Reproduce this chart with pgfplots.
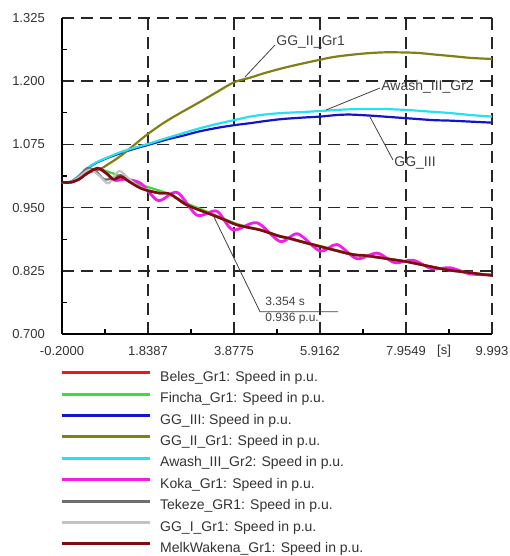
\documentclass[border=0pt]{standalone}
\usepackage{fontspec}
\setmainfont{Liberation Sans}
\usepackage{pgfplots}
\pgfplotsset{compat=1.18}
\definecolor{cRed}{RGB}{230,25,30}
\definecolor{cGreen}{RGB}{60,220,60}
\definecolor{cBlue}{RGB}{20,20,200}
\definecolor{cOlive}{RGB}{128,128,20}
\definecolor{cCyan}{RGB}{40,225,240}
\definecolor{cMag}{RGB}{240,30,230}
\definecolor{cGray}{RGB}{110,110,110}
\definecolor{cLGray}{RGB}{195,195,195}
\definecolor{cDRed}{RGB}{130,10,10}
\begin{document}
\begin{tikzpicture}
\begin{axis}[
 scale only axis, width=430pt, height=316pt,
 xmin=-0.2, xmax=9.9936, ymin=0.7, ymax=1.325,
 axis lines=left, axis line style={-, line width=1.6pt, black},
 xtick={-0.2,1.83872,3.87744,5.91616,7.95488,9.9936},
 xticklabels={-0.2000,1.8387,3.8775,5.9162,7.9549,9.993},
 ytick={0.7,0.825,0.95,1.075,1.2,1.325},
 yticklabels={0.700,0.825,0.950,1.075,1.200,1.325},
 minor x tick num=1, minor y tick num=1,
 tick align=inside, major tick length=0pt, minor tick length=5pt,
 tick style={black, line width=1.2pt},
 grid=major, major grid style={black!85, line width=1.6pt, dash pattern=on 12pt off 7pt},
 ticklabel style={font=\fontsize{13}{15}\selectfont, text=black!80, inner sep=0pt},
 xticklabel style={yshift=-12pt},
 yticklabel style={xshift=-17pt},
 /pgf/number format/assume math mode=true,
 legend style={at={(-0.00465,-0.1171)}, anchor=north west, draw=none, fill=none,
   inner sep=0pt, column sep=9pt, row sep=8.4pt,
   font=\fontsize{14}{16}\selectfont, text=black!80,
   nodes={inner sep=0pt, text height=10pt, text depth=3pt}},
 legend cell align=left,
 legend image code/.code={\draw[#1, line width=3pt] (0pt,5pt) -- (88pt,5pt);},
 every axis plot/.append style={smooth, tension=0.5, no marks},
]
% Beles_Gr1
\addplot[cRed, line width=2.2pt] coordinates {(-0.2,1.000) (0.0,1.000) (0.2,1.006) (0.4,1.018) (0.65,1.027) (0.85,1.019) (1.02,1.007) (1.2,1.010) (1.4,1.001) (1.6,0.991) (1.77,0.986) (2.08,0.979) (2.36,0.976) (2.72,0.957) (3.0,0.947) (3.35,0.936) (3.65,0.926) (3.94,0.916) (4.2,0.911) (4.49,0.906) (4.75,0.899) (4.97,0.893) (5.2,0.889) (5.55,0.881) (5.92,0.873) (6.3,0.865) (6.7,0.857) (7.0,0.855) (7.34,0.851) (7.65,0.847) (7.97,0.843) (8.5,0.834) (8.92,0.827) (9.2,0.824) (9.5,0.821) (9.75,0.818) (9.99,0.816)};
\addlegendentry{Beles\_Gr1: Speed in p.u.}
% Fincha_Gr1
\addplot[cGreen, line width=2.2pt] coordinates {(-0.2,1.000) (0.0,1.000) (0.2,1.006) (0.4,1.018) (0.65,1.027) (0.85,1.022) (1.0,1.018) (1.2,1.012) (1.5,1.000) (1.9,0.989) (2.3,0.978) (2.72,0.960) (3.0,0.950) (3.35,0.938) (3.94,0.918) (4.49,0.906) (4.97,0.894) (5.92,0.874) (6.7,0.858) (7.34,0.851) (7.97,0.843) (8.92,0.827) (9.5,0.821) (9.99,0.816)};
\addlegendentry{Fincha\_Gr1: Speed in p.u.}
% GG_III
\addplot[cBlue, line width=2.2pt] coordinates {(-0.2,1.000) (0.0,1.001) (0.2,1.012) (0.4,1.027) (0.6,1.038) (0.9,1.049) (1.2,1.058) (1.5,1.066) (1.84,1.074) (2.3,1.085) (2.7,1.093) (3.07,1.101) (3.5,1.108) (3.88,1.113) (4.26,1.117) (4.6,1.121) (5.0,1.125) (5.5,1.128) (5.92,1.130) (6.3,1.133) (6.63,1.134) (7.1,1.132) (7.6,1.129) (8.1,1.126) (8.6,1.123) (9.0,1.122) (9.5,1.120) (9.99,1.118)};
\addlegendentry{GG\_III: Speed in p.u.}
% GG_II_Gr1
\addplot[cOlive, line width=2.2pt] coordinates {(-0.2,1.000) (0.0,1.000) (0.2,1.007) (0.45,1.020) (0.7,1.026) (0.9,1.036) (1.17,1.051) (1.5,1.073) (1.81,1.094) (2.2,1.117) (2.6,1.137) (3.07,1.159) (3.5,1.180) (3.88,1.198) (4.26,1.207) (4.6,1.216) (5.04,1.226) (5.45,1.234) (5.89,1.242) (6.25,1.248) (6.63,1.252) (7.0,1.255) (7.41,1.257) (7.8,1.257) (8.22,1.256) (8.6,1.253) (9.0,1.250) (9.5,1.246) (9.99,1.244)};
\addlegendentry{GG\_II\_Gr1: Speed in p.u.}
% Awash_III_Gr2
\addplot[cCyan, line width=2.2pt] coordinates {(-0.2,1.000) (0.0,1.001) (0.2,1.013) (0.4,1.028) (0.6,1.039) (0.9,1.050) (1.2,1.060) (1.5,1.068) (1.84,1.076) (2.3,1.088) (2.7,1.098) (3.07,1.107) (3.5,1.116) (3.88,1.123) (4.26,1.130) (4.6,1.134) (5.0,1.137) (5.5,1.139) (5.92,1.141) (6.5,1.144) (7.0,1.145) (7.41,1.145) (8.0,1.143) (8.5,1.140) (9.0,1.137) (9.5,1.133) (9.99,1.130)};
\addlegendentry{Awash\_III\_Gr2: Speed in p.u.}
% Koka_Gr1
\addplot[cMag, line width=2.8pt] coordinates {(-0.2,1.000) (0.0,1.000) (0.2,1.006) (0.4,1.018) (0.65,1.027) (0.85,1.018) (1.05,1.004) (1.3,1.006) (1.67,0.998) (2.08,0.964) (2.53,0.980) (3.0,0.935) (3.47,0.943) (3.85,0.906) (4.42,0.920) (4.97,0.883) (5.39,0.898) (5.92,0.864) (6.32,0.877) (6.79,0.849) (7.27,0.860) (7.69,0.841) (8.12,0.846) (8.57,0.829) (9.0,0.831) (9.47,0.819) (9.99,0.817)};
\addlegendentry{Koka\_Gr1: Speed in p.u.}
% Tekeze_GR1
\addplot[cGray, line width=2.2pt] coordinates {(-0.2,1.000) (0.0,1.000) (0.2,1.012) (0.4,1.028) (0.6,1.022) (0.8,1.006) (1.0,1.008) (1.2,1.014) (1.4,1.002) (1.77,0.986) (2.08,0.979) (2.36,0.976) (2.72,0.957) (3.0,0.947) (3.35,0.936) (3.94,0.916) (4.49,0.906) (4.97,0.893) (5.92,0.873) (6.7,0.857) (7.34,0.851) (7.97,0.843) (8.92,0.827) (9.5,0.821) (9.99,0.816)};
\addlegendentry{Tekeze\_GR1: Speed in p.u.}
% GG_I_Gr1
\addplot[cLGray, line width=2.2pt] coordinates {(-0.2,1.000) (0.0,1.000) (0.2,1.010) (0.45,1.025) (0.7,1.012) (0.9,0.998) (1.15,1.022) (1.35,1.010) (1.6,0.992) (1.8,0.986) (2.08,0.979) (2.36,0.976) (2.72,0.957) (3.0,0.947) (3.35,0.936) (3.94,0.916) (4.49,0.906) (4.97,0.893) (5.92,0.873) (6.7,0.857) (7.34,0.851) (7.97,0.843) (8.92,0.827) (9.5,0.821) (9.99,0.816)};
\addlegendentry{GG\_I\_Gr1: Speed in p.u.}
% MelkWakena_Gr1
\addplot[cDRed, line width=2.6pt] coordinates {(-0.2,1.000) (0.0,1.000) (0.2,1.006) (0.4,1.018) (0.65,1.028) (0.85,1.018) (1.02,1.006) (1.2,1.011) (1.4,1.001) (1.6,0.991) (1.77,0.985) (2.08,0.979) (2.36,0.977) (2.72,0.957) (3.0,0.947) (3.35,0.936) (3.65,0.926) (3.94,0.916) (4.2,0.911) (4.49,0.906) (4.75,0.899) (4.97,0.893) (5.2,0.889) (5.55,0.881) (5.92,0.873) (6.3,0.865) (6.7,0.857) (7.0,0.855) (7.34,0.851) (7.65,0.847) (7.97,0.843) (8.5,0.834) (8.92,0.827) (9.2,0.824) (9.5,0.821) (9.75,0.818) (9.99,0.816)};
\addlegendentry{MelkWakena\_Gr1: Speed in p.u.}
\end{axis}
% annotations (axis box lower-left at origin, 1pt = 1px)
\begin{scope}[black!75, line width=0.8pt]
\draw (183pt,257pt) -- (213pt,289pt);
\node[anchor=west, inner sep=0pt, font=\fontsize{14}{16}\selectfont, text=black!75] at (214pt,292pt) {GG\_II\_Gr1};
\draw (264pt,224pt) -- (318pt,246pt);
\node[anchor=west, inner sep=0pt, font=\fontsize{14}{16}\selectfont, text=black!75] at (319pt,247pt) {Awash\_III\_Gr2};
\draw (308pt,217pt) -- (331pt,174pt);
\node[anchor=west, inner sep=0pt, font=\fontsize{14}{16}\selectfont, text=black!75] at (332pt,171pt) {GG\_III};
\draw (151pt,119pt) -- (198pt,22.3pt) -- (276pt,22.3pt);
\node[anchor=west, inner sep=0pt, font=\fontsize{12}{14}\selectfont, text=black!75] at (203pt,33pt) {3.354 s};
\node[anchor=west, inner sep=0pt, font=\fontsize{12}{14}\selectfont, text=black!75] at (203pt,15pt) {0.936 p.u.};
\end{scope}
\node[inner sep=0pt, font=\fontsize{13}{15}\selectfont, text=black!80] at (382pt,-17pt) {[s]};
\pgfresetboundingbox
\path[use as bounding box] (-62pt,334pt) rectangle (448pt,-222pt);
\end{tikzpicture}
\end{document}
